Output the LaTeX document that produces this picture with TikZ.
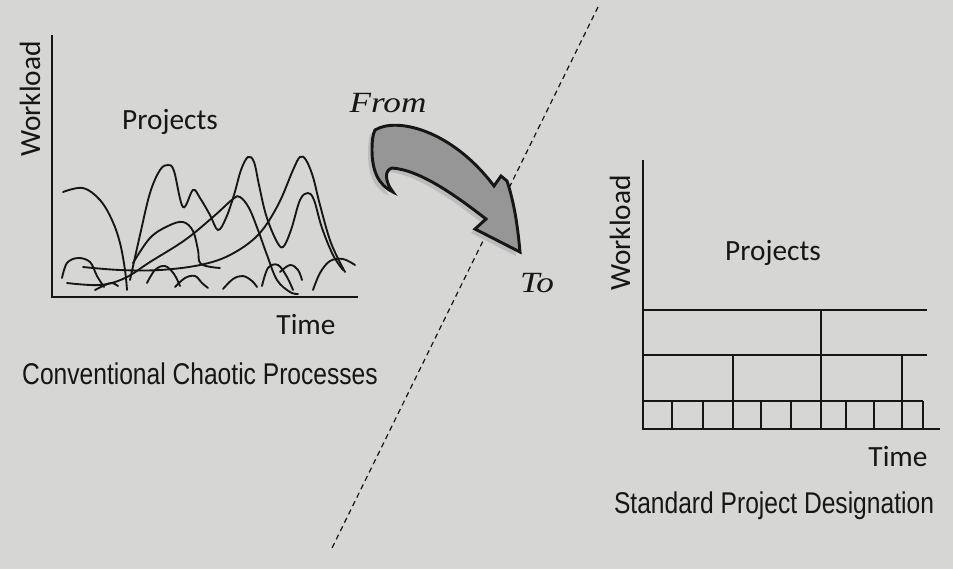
\documentclass[tikz,border=0pt]{standalone}
\usepackage{fontspec}
\setmainfont{Carlito}
\newfontfamily\narrowsans[FakeStretch=0.82]{Liberation Sans}
\newfontfamily\wideserif[FakeStretch=1.2]{Liberation Serif}
\definecolor{paper}{RGB}{214,214,212}
\definecolor{ink}{RGB}{22,22,22}
\definecolor{arrowfill}{RGB}{150,150,150}
\definecolor{arrowshade}{RGB}{188,188,188}
\tikzset{
  axis/.style={draw=ink,line width=1.8pt},
  grid line/.style={draw=ink,line width=1.1pt},
  chaos/.style={draw=ink,line width=1.4pt,line cap=round},
  label/.style={inner sep=0.75pt,text=ink,font=\fontsize{22}{26}\selectfont},
  caption/.style={inner sep=0.75pt,text=ink,font=\narrowsans\fontsize{22.5}{27}\selectfont},
  fromto/.style={inner sep=0.75pt,text=ink,font=\wideserif\itshape\fontsize{22}{26}\selectfont}
}
\begin{document}
\begin{tikzpicture}[x=0.75pt,y=0.75pt,yscale=-1,xscale=1]
    %set diagram size
    \fill[paper] (0,0) rectangle (953,569);

    %Straight Lines: divider
    \draw[ink,dash pattern=on 4pt off 3pt,line width=0.9pt] (598,7) -- (332,548);

    %Shape: Axis left
    \draw[axis] (52,35) -- (52,297) -- (358,297);
    %Curve Lines: chaotic workloads
    \draw[chaos] plot[smooth,tension=0.6] coordinates {(63,192) (83,188) (100,200) (112,220) (120,243) (125,270) (127,290)};
    \draw[chaos] plot[smooth,tension=0.6] coordinates {(130,280) (140,235) (150,193) (160,170) (168,165) (174,171) (183,207) (193,190) (200,198) (210,215) (218,230) (226,218) (234,195) (241,170) (248,157) (254,162) (259,185) (266,215) (276,240) (283,247) (291,230) (300,200) (308,193) (314,200) (322,228) (333,255) (343,270)};
    \draw[chaos] plot[smooth,tension=0.6] coordinates {(133,263) (150,238) (168,226) (183,222) (193,231) (198,250) (201,264) (220,268)};
    \draw[chaos] plot[smooth,tension=0.6] coordinates {(83,267) (120,270) (160,270) (200,265) (230,255) (258,235) (278,205) (293,170) (300,157) (306,160) (313,177) (320,205) (331,243) (345,272)};
    \draw[chaos] plot[smooth,tension=0.6] coordinates {(67,283) (100,285) (125,278) (150,262) (185,240) (213,217) (233,199) (240,197) (249,208) (258,230) (267,255) (277,280) (290,292) (298,294)};
    \draw[chaos] plot[smooth,tension=0.6] coordinates {(62,278) (67,263) (78,258) (90,262) (97,276) (104,287)};
    \draw[chaos] plot[smooth,tension=0.6] coordinates {(95,290) (105,285) (112,283) (118,286)};
    \draw[chaos] plot[smooth,tension=0.6] coordinates {(147,283) (155,270) (165,266) (174,274) (180,286)};
    \draw[chaos] plot[smooth,tension=0.6] coordinates {(175,287) (185,278) (195,276) (202,283) (208,288)};
    \draw[chaos] plot[smooth,tension=0.6] coordinates {(223,289) (233,279) (243,276) (252,281) (257,287)};
    \draw[chaos] plot[smooth,tension=0.6] coordinates {(262,286) (268,268) (278,265) (287,277) (293,290)};
    \draw[chaos] plot[smooth,tension=0.6] coordinates {(280,272) (290,265) (298,270) (302,280)};
    \draw[chaos] plot[smooth,tension=0.6] coordinates {(313,290) (320,273) (330,261) (343,259) (355,265)};

    %Shape: Axis right
    \draw[axis] (643,160) -- (643,429) -- (940,429);
    %Shape: project blocks
    \draw[grid line] (643,310) -- (927,310);
    \draw[grid line] (643,355) -- (927,355);
    \draw[grid line] (643,401) -- (923,401);
    \draw[grid line] (821,310) -- (821,429);
    \draw[grid line] (733,355) -- (733,429);
    \draw[grid line] (902,355) -- (902,429);
    \foreach \x in {672,703,761,791,846,874,923}
      \draw[grid line] (\x,401) -- (\x,429);

    %Shape: curved arrow shadow
    \fill[arrowshade] (370,134) .. controls (391,121) and (446,133) .. (490,190) -- (497,180) -- (503,185) .. controls (511,209) and (514,234) .. (516,256) -- (471,233) -- (482,223) .. controls (451,199) and (416,174) .. (388,172) .. controls (380,174) and (381,186) .. (389,196) .. controls (374,189) and (368,174) .. (368,154) .. controls (368,144) and (369,138) .. (370,134) -- cycle;
    %Shape: curved arrow
    \draw[ink,fill=arrowfill,line width=2.2pt,line join=miter] (375,130) .. controls (396,117) and (451,129) .. (494,186) -- (501,176) -- (507,181) .. controls (515,205) and (518,230) .. (520,252) -- (475,229) -- (486,219) .. controls (455,195) and (420,170) .. (392,168) .. controls (384,170) and (385,182) .. (393,192) .. controls (378,185) and (372,170) .. (372,150) .. controls (372,140) and (373,134) .. (375,130) -- cycle;

    % Text Node
    \draw (30,99) node [label,rotate=90] (workloadA) {Workload};
    % Text Node
    \draw (170,122) node [label] (projectsA) {Projects};
    % Text Node
    \draw (306,325) node [label] (timeA) {Time};
    % Text Node
    \draw (200,374) node [caption] (chaotic) {Conventional Chaotic Processes};
    % Text Node
    \draw (388,103) node [fromto] (from) {From};
    % Text Node
    \draw (537,283) node [fromto] (to) {To};
    % Text Node
    \draw (620,233) node [label,rotate=90] (workloadB) {Workload};
    % Text Node
    \draw (773,253) node [label] (projectsB) {Projects};
    % Text Node
    \draw (898,456) node [label] (timeB) {Time};
    % Text Node
    \draw (774,506) node [caption] (standard) {Standard Project Designation};
\end{tikzpicture}
\end{document}
